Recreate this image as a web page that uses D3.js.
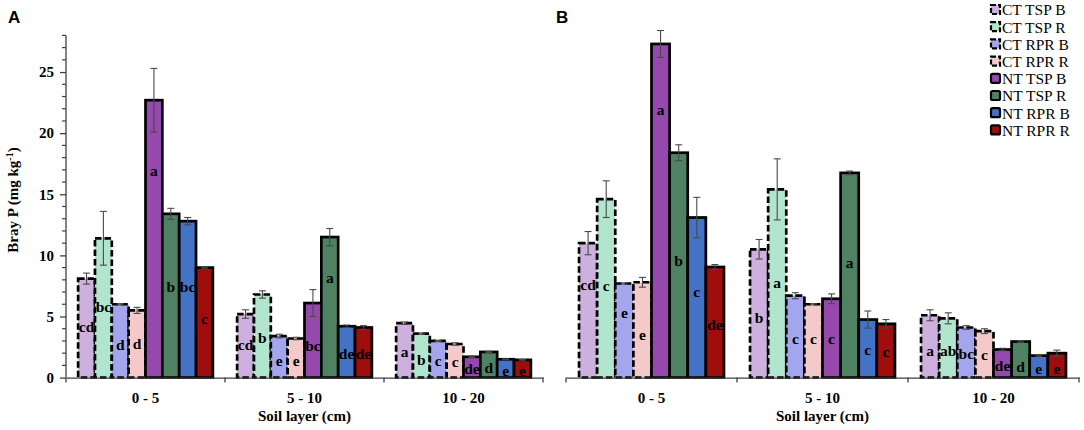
<!DOCTYPE html>
<html>
<head>
<meta charset="utf-8">
<script src="https://cdn.jsdelivr.net/npm/d3@7"></script>
<style>
html,body{margin:0;padding:0;background:#fff;}
svg{display:block;}
</style>
</head>
<body>
<svg id="chart" width="1084" height="430"></svg>
<script>
// ---------- data ----------
const categories = ["0 - 5", "5 - 10", "10 - 20"];
const series = ["CT TSP B", "CT TSP R", "CT RPR B", "CT RPR R", "NT TSP B", "NT TSP R", "NT RPR B", "NT RPR R"];
const seriesColors = ["#CDB0DE", "#B2E5CE", "#A3A6EC", "#F3C9C9", "#9549AC", "#4E8262", "#4472C4", "#A00D0D"];
const yTicks = [0, 5, 10, 15, 20, 25];

// Panel A
const valuesA_05   = [8.1, 11.4, 6.0, 5.5, 22.7, 13.4, 12.8, 9.0];
const errA_05      = [0.45, 2.2, 0.05, 0.25, 2.6, 0.45, 0.3, 0.05];
const lettersA_05  = ["cd", "bc", "d", "d", "a", "b", "bc", "c"];
const letterAtA_05 = [4.2, 5.8, 2.7, 2.8, 16.9, 7.45, 7.45, 4.8];

const valuesA_510   = [5.2, 6.8, 3.4, 3.2, 6.1, 11.5, 4.2, 4.1];
const errA_510      = [0.35, 0.3, 0.15, 0.1, 1.1, 0.7, 0.1, 0.15];
const lettersA_510  = ["cd", "b", "e", "e", "bc", "a", "de", "de"];
const letterAtA_510 = [2.7, 3.3, 1.4, 1.4, 2.6, 8.2, 2.0, 2.0];

const valuesA_1020   = [4.45, 3.6, 3.0, 2.75, 1.7, 2.1, 1.5, 1.45];
const errA_1020      = [0.1, 0.05, 0.05, 0.1, 0.05, 0.05, 0.03, 0.03];
const lettersA_1020  = ["a", "b", "c", "c", "de", "d", "e", "e"];
const letterAtA_1020 = [2.1, 1.5, 1.4, 1.3, 0.7, 0.85, 0.6, 0.6];

// Panel B
const valuesB_05   = [11.0, 14.6, 7.7, 7.8, 27.3, 18.4, 13.1, 9.05];
const errB_05      = [0.95, 1.5, 0.05, 0.4, 1.1, 0.65, 1.65, 0.2];
const lettersB_05  = ["cd", "c", "e", "e", "a", "b", "c", "de"];
const letterAtB_05 = [7.6, 7.5, 5.3, 3.55, 21.9, 9.6, 7.0, 4.3];

const valuesB_510   = [10.5, 15.4, 6.7, 6.0, 6.45, 16.75, 4.75, 4.4];
const errB_510      = [0.8, 2.5, 0.25, 0.05, 0.4, 0.15, 0.7, 0.35];
const lettersB_510  = ["b", "a", "c", "c", "c", "a", "c", "c"];
const letterAtB_510 = [4.9, 7.8, 3.2, 3.2, 3.2, 9.4, 2.3, 2.1];

const valuesB_1020   = [5.1, 4.85, 4.1, 3.8, 2.3, 2.95, 1.8, 2.0];
const errB_1020      = [0.45, 0.45, 0.15, 0.2, 0.1, 0.05, 0.05, 0.25];
const lettersB_1020  = ["a", "ab", "bc", "c", "de", "d", "e", "e"];
const letterAtB_1020 = [2.2, 2.2, 2.0, 1.85, 0.95, 0.9, 0.7, 0.7];

// ---------- build ----------
function buildRows(vals, errs, lets, lat) {
  const rows = [];
  categories.forEach((c, ci) => {
    series.forEach((s, si) => {
      rows.push({cat: c, ser: s, si: si, v: vals[ci][si], e: errs[ci][si], l: lets[ci][si], la: lat[ci][si]});
    });
  });
  return rows;
}
const rowsA = buildRows([valuesA_05, valuesA_510, valuesA_1020], [errA_05, errA_510, errA_1020],
                        [lettersA_05, lettersA_510, lettersA_1020], [letterAtA_05, letterAtA_510, letterAtA_1020]);
const rowsB = buildRows([valuesB_05, valuesB_510, valuesB_1020], [errB_05, errB_510, errB_1020],
                        [lettersB_05, lettersB_510, lettersB_1020], [letterAtB_05, letterAtB_510, letterAtB_1020]);

const svg = d3.select("#chart");
const serif = "'Liberation Serif', 'Times New Roman', serif";
const axisColor = "#404040";

const y = d3.scaleLinear().domain([0, 28]).range([377.6, 35.4]);
const color = d3.scaleOrdinal().domain(series).range(seriesColors);

function drawPanel(rows, x0, x1, letter, letterX) {
  const g = svg.append("g");
  const x = d3.scaleBand().domain(categories).range([x0, x1]).paddingInner(0).paddingOuter(0);
  const xs = d3.scaleBand().domain(series).range([0, x.bandwidth()]).paddingInner(0).paddingOuter(0.72);

  // bars
  g.selectAll("rect.bar").data(rows).enter().append("rect")
    .attr("class", "bar")
    .attr("x", d => x(d.cat) + xs(d.ser))
    .attr("y", d => y(d.v))
    .attr("width", xs.bandwidth())
    .attr("height", d => y(0) - y(d.v))
    .attr("fill", d => color(d.ser))
    .attr("stroke", "#000")
    .attr("stroke-width", 2.7)
    .attr("stroke-dasharray", d => d.si < 4 ? "6.5,3" : null);

  // error bars
  const eb = g.selectAll("g.err").data(rows).enter().append("g").attr("class", "err")
    .attr("stroke", "#4a4a4a").attr("stroke-width", 1.1);
  const cx = d => x(d.cat) + xs(d.ser) + xs.bandwidth() / 2;
  eb.append("line")
    .attr("x1", cx).attr("x2", cx)
    .attr("y1", d => y(d.v + d.e)).attr("y2", d => y(d.v - d.e));
  eb.append("line")
    .attr("x1", d => cx(d) - 3.5).attr("x2", d => cx(d) + 3.5)
    .attr("y1", d => y(d.v + d.e)).attr("y2", d => y(d.v + d.e));
  eb.append("line")
    .attr("x1", d => cx(d) - 3.5).attr("x2", d => cx(d) + 3.5)
    .attr("y1", d => y(d.v - d.e)).attr("y2", d => y(d.v - d.e));

  // letters
  g.selectAll("text.lab").data(rows).enter().append("text")
    .attr("class", "lab")
    .attr("x", cx)
    .attr("y", d => y(d.la))
    .attr("dy", "0.35em")
    .attr("text-anchor", "middle")
    .attr("font-family", serif)
    .attr("font-weight", "bold")
    .attr("font-size", 15.5)
    .attr("fill", "#000")
    .text(d => d.l);

  // x axis
  const xAxis = d3.axisBottom(x).tickSize(0).tickPadding(10);
  const ax = g.append("g").attr("transform", `translate(0,${y(0)})`).call(xAxis);
  ax.select(".domain").attr("stroke", axisColor).attr("stroke-width", 1.3);
  ax.selectAll(".tick text")
    .attr("font-family", serif).attr("font-weight", "bold").attr("font-size", 15).attr("fill", "#000")
    .attr("dy", "1em");
  // boundary ticks
  const bounds = categories.map(c => x(c)).concat([x1]);
  ax.selectAll("line.bnd").data(bounds).enter().append("line")
    .attr("class", "bnd")
    .attr("x1", d => d).attr("x2", d => d)
    .attr("y1", 0).attr("y2", 5)
    .attr("stroke", axisColor).attr("stroke-width", 1.3);

  // axis title
  g.append("text")
    .attr("x", (x0 + x1) / 2).attr("y", 421)
    .attr("text-anchor", "middle")
    .attr("font-family", serif).attr("font-weight", "bold").attr("font-size", 15)
    .text("Soil layer (cm)");

  // panel letter
  g.append("text")
    .attr("x", letterX).attr("y", 23)
    .attr("font-family", "'Liberation Sans', Arial, sans-serif").attr("font-weight", "bold").attr("font-size", 17)
    .text(letter);
  return x;
}

drawPanel(rowsA, 66, 543, "A", 8);
drawPanel(rowsB, 566, 1079, "B", 556);

// y axis (panel A)
const yg = svg.append("g").attr("transform", "translate(66,0)");
const yMajor = d3.axisLeft(y).tickValues(yTicks).tickSize(6).tickPadding(6).tickFormat(d3.format("d"));
yg.call(yMajor);
yg.select(".domain").remove();
yg.selectAll(".tick line").attr("stroke", axisColor).attr("stroke-width", 1.3);
yg.selectAll(".tick text")
  .attr("font-family", serif).attr("font-weight", "bold").attr("font-size", 15).attr("fill", "#000");
const minor = d3.range(0, 29).filter(v => v % 5 !== 0);
yg.selectAll("line.minor").data(minor).enter().append("line")
  .attr("class", "minor")
  .attr("x1", -4).attr("x2", 0)
  .attr("y1", d => y(d)).attr("y2", d => y(d))
  .attr("stroke", axisColor).attr("stroke-width", 1.2);
yg.append("line").attr("x1", 0).attr("x2", 0).attr("y1", y(0)).attr("y2", y(28))
  .attr("stroke", axisColor).attr("stroke-width", 1.3);

// y title
const yt = svg.append("text")
  .attr("transform", "translate(18,200) rotate(-90)")
  .attr("text-anchor", "middle")
  .attr("font-family", serif).attr("font-weight", "bold").attr("font-size", 15);
yt.append("tspan").text("Bray P (mg kg");
yt.append("tspan").attr("baseline-shift", "super").attr("font-size", 10).text("-1");
yt.append("tspan").text(")");

// legend
const leg = svg.append("g").attr("transform", "translate(990,10)");
const li = leg.selectAll("g").data(series).enter().append("g")
  .attr("transform", (d, i) => `translate(0,${i * 17.2})`);
li.append("rect")
  .attr("x", 1).attr("y", -5).attr("width", 9).attr("height", 9)
  .attr("rx", (d, i) => i < 4 ? 0 : 1.5)
  .attr("fill", d => color(d))
  .attr("stroke", "#000").attr("stroke-width", 2.2)
  .attr("stroke-dasharray", (d, i) => i < 4 ? "5,2" : null);
li.append("text")
  .attr("x", 12).attr("y", 0).attr("dy", "0.35em")
  .attr("font-family", serif).attr("font-size", 15.5)
  .text(d => d);
</script>
</body>
</html>
